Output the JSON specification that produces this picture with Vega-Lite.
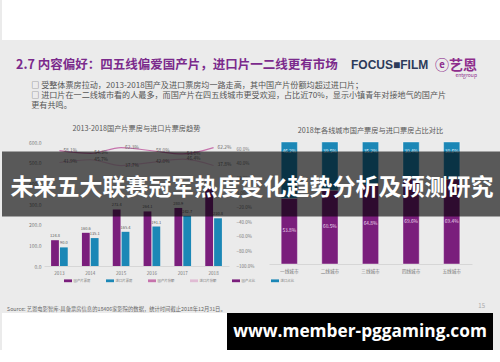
{
  "$schema": "https://vega.github.io/schema/vega-lite/v6.json",
  "background": "#ebebeb",
  "padding": 0,
  "config": {
    "view": {"stroke": null},
    "font": "Noto Sans CJK SC"
  },
  "spacing": 18,
  "vconcat": [
    {
      "width": 500,
      "height": 40,
      "data": {"values": [{}]},
      "mark": {"type": "rect", "color": "#ffffff"},
      "encoding": {
        "x": {"datum": 0, "type": "quantitative", "scale": {"domain": [0, 1], "nice": false}, "axis": null},
        "x2": {"datum": 1},
        "y": {"datum": 0, "type": "quantitative", "scale": {"domain": [0, 1], "nice": false}, "axis": null},
        "y2": {"datum": 1}
      }
    },
    {
      "spacing": 3,
      "vconcat": [
        {
          "spacing": 0,
          "hconcat": [
            {
              "width": 345, "height": 1,
              "data": {"values": [{}]},
              "mark": {"type": "point", "opacity": 0},
              "title": {"text": "2.7 内容偏好：四五线偏爱国产片，进口片一二线更有市场", "anchor": "start", "frame": "group", "dx": 14, "offset": 0, "fontSize": 12.5, "fontWeight": "bold", "color": "#7b2a8c"}
            },
            {
              "width": 85, "height": 1,
              "data": {"values": [{}]},
              "mark": {"type": "point", "opacity": 0},
              "title": {"text": "FOCUS■FILM", "anchor": "start", "frame": "group", "dx": 4, "offset": 0, "font": "Liberation Sans", "fontSize": 12, "fontWeight": "bold", "color": "#2d3b5a"}
            },
            {
              "width": 70, "height": 1,
              "data": {"values": [{}]},
              "mark": {"type": "point", "opacity": 0},
              "title": {"text": "ⓔ艺恩", "subtitle": "entgroup", "anchor": "end", "frame": "group", "dx": -25, "offset": -6, "fontSize": 14, "fontWeight": "bold", "color": "#8e2d8c", "subtitleFontSize": 5, "subtitleColor": "#8e2d8c", "subtitlePadding": 0}
            }
          ]
        },
        {
          "spacing": 28,
          "vconcat": [
            {
              "bounds": "flush",
              "spacing": 40,
              "title": {
                "text": ["□ 受整体票房拉动，2013-2018国产及进口票房均一路走高，其中国产片份额均超过进口片；", "□ 进口片在一二线城市看的人最多，而国产片在四五线城市更受欢迎，占比近70%，显示小镇青年对接地气的国产片", "　 更有共鸣。"],
                "anchor": "start", "frame": "bounds", "dx": 31, "offset": 15,
                "fontSize": 8.1, "fontWeight": "normal", "color": "#555555", "lineHeight": 10
              },
              "hconcat": [
                {
                  "width": 2, "height": 124,
                  "data": {"values": [{}]},
                  "mark": {"type": "point", "opacity": 0}
                },
                {
                  "width": 185, "height": 124,
                  "title": {"text": "2013-2018国产片票房与进口片票房趋势", "fontSize": 7.2, "fontWeight": "normal", "color": "#595959", "offset": 8, "anchor": "middle"},
                  "data": {"values": [
                    {"year": "2013", "series": "国产片票房", "value": 124.8},
                    {"year": "2014", "series": "国产片票房", "value": 160.6},
                    {"year": "2015", "series": "国产片票房", "value": 273.4},
                    {"year": "2016", "series": "国产片票房", "value": 264.1},
                    {"year": "2017", "series": "国产片票房", "value": 280.9},
                    {"year": "2018", "series": "国产片票房", "value": 379.8},
                    {"year": "2013", "series": "进口片票房", "value": 90.0},
                    {"year": "2014", "series": "进口片票房", "value": 135.1},
                    {"year": "2015", "series": "进口片票房", "value": 165.4},
                    {"year": "2016", "series": "进口片票房", "value": 191.1},
                    {"year": "2017", "series": "进口片票房", "value": 242.7},
                    {"year": "2018", "series": "进口片票房", "value": 230.8},
                    {"year": "2013", "series": "国产片份额", "value": 0.581},
                    {"year": "2014", "series": "国产片份额", "value": 0.543},
                    {"year": "2015", "series": "国产片份额", "value": 0.623},
                    {"year": "2016", "series": "国产片份额", "value": 0.580},
                    {"year": "2017", "series": "国产片份额", "value": 0.536},
                    {"year": "2018", "series": "国产片份额", "value": 0.622},
                    {"year": "2013", "series": "进口片份额", "value": 0.419},
                    {"year": "2014", "series": "进口片份额", "value": 0.457},
                    {"year": "2015", "series": "进口片份额", "value": 0.377},
                    {"year": "2016", "series": "进口片份额", "value": 0.420},
                    {"year": "2017", "series": "进口片份额", "value": 0.464},
                    {"year": "2018", "series": "进口片份额", "value": 0.378}
                  ]},
                  "encoding": {
                    "x": {"field": "year", "type": "ordinal", "title": null,
                      "scale": {"paddingInner": 0.46, "paddingOuter": 0.23},
                      "axis": {"labelAngle": 0, "ticks": false, "domainColor": "#d6d6d6", "labelFontSize": 4.6, "labelColor": "#7a7a7a", "labelPadding": 4}}
                  },
                  "layer": [
                    {
                      "transform": [{"filter": {"field": "series", "oneOf": ["国产片票房", "进口片票房"]}}],
                      "encoding": {
                        "y": {"field": "value", "type": "quantitative", "title": null,
                          "scale": {"domain": [0, 600], "nice": false},
                          "axis": {"values": [0, 100, 200, 300, 400, 500, 600], "format": ".1f", "grid": false, "domain": false, "ticks": false, "labelFontSize": 5, "labelColor": "#7a7a7a", "labelPadding": 3}},
                        "xOffset": {"field": "series", "type": "nominal", "scale": {"paddingInner": 0.12}}
                      },
                      "layer": [
                        {
                          "mark": {"type": "bar"},
                          "encoding": {
                            "color": {"field": "series", "type": "nominal",
                              "scale": {"domain": ["国产片票房", "进口片票房", "国产片份额", "进口片份额"], "range": ["#7a1e7c", "#1b87b6", "#c673ac", "#e0bcd4"]},
                              "legend": {"orient": "none", "legendX": 62, "legendY": 276.5, "direction": "horizontal", "title": null, "symbolType": "M-1,-0.35H1V0.35H-1Z", "symbolSize": 64, "symbolStrokeWidth": 0, "labelFontSize": 3.4, "labelColor": "#7a7a7a", "columnPadding": 15, "labelOffset": 1.5}}
                          }
                        },
                        {
                          "mark": {"type": "text", "dy": -2, "baseline": "bottom", "fontSize": 4, "color": "#595959"},
                          "encoding": {"text": {"field": "value", "type": "quantitative", "format": ".1f"}}
                        }
                      ]
                    },
                    {
                      "transform": [{"filter": {"field": "series", "oneOf": ["国产片份额", "进口片份额"]}}],
                      "encoding": {
                        "y": {"field": "value", "type": "quantitative", "title": null,
                          "scale": {"domain": [-1, 0.7], "nice": false},
                          "axis": {"orient": "right", "values": [-1, -0.8, -0.6, -0.4, -0.2, 0, 0.2, 0.4, 0.6], "format": ".1%", "grid": false, "domain": false, "ticks": false, "labelFontSize": 4.5, "labelColor": "#7a7a7a", "labelPadding": 7}}
                      },
                      "layer": [
                        {
                          "mark": {"type": "line", "strokeWidth": 1.2, "interpolate": "monotone"},
                          "encoding": {"color": {"field": "series", "type": "nominal"}}
                        },
                        {
                          "mark": {"type": "text", "align": "left", "dx": 4, "baseline": "middle", "fontSize": 4.8, "color": "#6a6a6a"},
                          "encoding": {"text": {"field": "value", "type": "quantitative", "format": ".1%"}}
                        }
                      ]
                    }
                  ],
                  "resolve": {"scale": {"y": "independent"}}
                },
                {
                  "width": 203, "height": 122,
                  "title": {"text": "2018年各线城市国产票房与进口票房占比对比", "fontSize": 7.2, "fontWeight": "normal", "color": "#595959", "offset": 8, "anchor": "middle"},
                  "data": {"values": [
                    {"city": "一线城市", "type": "国产占比", "value": 0.538},
                    {"city": "二线城市", "type": "国产占比", "value": 0.605},
                    {"city": "三线城市", "type": "国产占比", "value": 0.648},
                    {"city": "四线城市", "type": "国产占比", "value": 0.696},
                    {"city": "五线城市", "type": "国产占比", "value": 0.694},
                    {"city": "一线城市", "type": "进口占比", "value": 0.462},
                    {"city": "二线城市", "type": "进口占比", "value": 0.395},
                    {"city": "三线城市", "type": "进口占比", "value": 0.352},
                    {"city": "四线城市", "type": "进口占比", "value": 0.304},
                    {"city": "五线城市", "type": "进口占比", "value": 0.306}
                  ]},
                  "encoding": {
                    "x": {"field": "city", "type": "nominal", "title": null,
                      "sort": ["一线城市", "二线城市", "三线城市", "四线城市", "五线城市"],
                      "scale": {"paddingInner": 0.6, "paddingOuter": 0.3},
                      "axis": {"labelAngle": 0, "ticks": false, "domainColor": "#d6d6d6", "labelFontSize": 4.6, "labelColor": "#7a7a7a", "labelPadding": 4}}
                  },
                  "layer": [
                    {
                      "mark": {"type": "bar", "stroke": "#ffffff", "strokeWidth": 0.4},
                      "encoding": {
                        "y": {"field": "value", "type": "quantitative", "stack": "zero", "scale": {"domain": [0, 1], "nice": false}, "axis": null},
                        "order": {"field": "type", "type": "nominal", "sort": "ascending"},
                        "color": {"field": "type", "type": "nominal",
                          "scale": {"domain": ["国产占比", "进口占比"], "range": ["#78207b", "#1f87b5"]},
                          "legend": {"orient": "none", "legendX": 343, "legendY": 276, "direction": "horizontal", "title": null, "symbolType": "square", "symbolSize": 10, "symbolStrokeWidth": 0, "labelFontSize": 4.8, "labelColor": "#7a7a7a", "columnPadding": 3, "labelOffset": 1}}
                      }
                    },
                    {
                      "transform": [{"filter": {"field": "type", "equal": "国产占比"}}],
                      "mark": {"type": "text", "baseline": "middle", "fontSize": 4.8, "color": "#eedcef"},
                      "encoding": {
                        "y": {"field": "value", "type": "quantitative", "stack": "zero", "bandPosition": 0.5},
                        "text": {"field": "value", "type": "quantitative", "format": ".1%"}
                      }
                    },
                    {
                      "transform": [{"filter": {"field": "type", "equal": "进口占比"}}],
                      "mark": {"type": "text", "baseline": "middle", "dy": 10, "fontSize": 4.8, "color": "#e4f2f8"},
                      "encoding": {
                        "y": {"datum": 1, "type": "quantitative"},
                        "text": {"field": "value", "type": "quantitative", "format": ".1%"}
                      }
                    }
                  ]
                },
                {
                  "width": 500, "height": 122,
                  "data": {"values": [{"t": "未来五大联赛冠军热度变化趋势分析及预测研究"}]},
                  "layer": [
                    {
                      "mark": {"type": "rect", "color": "#000000", "opacity": 0.62},
                      "encoding": {
                        "x": {"datum": -1.02, "type": "quantitative", "scale": {"domain": [0, 1], "nice": false, "zero": false}, "axis": null},
                        "x2": {"datum": -0.02},
                        "y": {"datum": 0.389, "type": "quantitative", "scale": {"domain": [0, 1], "nice": false}, "axis": null},
                        "y2": {"datum": 0.922}
                      }
                    },
                    {
                      "mark": {"type": "text", "color": "#ffffff", "fontSize": 23, "fontWeight": "bold", "align": "center", "baseline": "middle"},
                      "encoding": {
                        "x": {"datum": -0.52, "type": "quantitative"},
                        "y": {"datum": 0.627, "type": "quantitative"},
                        "text": {"field": "t"}
                      }
                    }
                  ]
                }
              ]
            },
            {
              "bounds": "flush",
              "spacing": 0,
              "hconcat": [
                {
                  "width": 225, "height": 37,
                  "data": {"values": [{}]},
                  "mark": {"type": "rect", "color": "#ffffff"},
                  "encoding": {
                    "x": {"datum": 0, "type": "quantitative", "scale": {"domain": [0, 1], "nice": false}, "axis": null},
                    "x2": {"datum": 1},
                    "y": {"datum": 0, "type": "quantitative", "scale": {"domain": [0, 1], "nice": false}, "axis": null},
                    "y2": {"datum": 1}
                  },
                  "title": {"text": "Source: 艺恩电影智库-具备票房信息的18406家影院的数据，统计时间截止2018年12月31日。", "anchor": "start", "frame": "group", "dx": 5, "offset": 1, "fontSize": 5.3, "fontWeight": "normal", "color": "#666666"}
                },
                {
                  "width": 266, "height": 37,
                  "data": {"values": [{"t": "www.member-pggaming.com"}]},
                  "title": {"text": "15", "anchor": "end", "frame": "group", "dx": -8, "offset": 4, "fontSize": 6, "fontWeight": "normal", "color": "#aaaaaa"},
                  "layer": [
                    {
                      "mark": {"type": "rect", "color": "#000000"},
                      "encoding": {
                        "x": {"datum": 0, "type": "quantitative", "scale": {"domain": [0, 1], "nice": false}, "axis": null},
                        "x2": {"datum": 1},
                        "y": {"datum": 0, "type": "quantitative", "scale": {"domain": [0, 1], "nice": false}, "axis": null},
                        "y2": {"datum": 1}
                      }
                    },
                    {
                      "mark": {"type": "text", "color": "#ffffff", "font": "Open Sans", "fontSize": 17.3, "fontWeight": "bold", "baseline": "middle"},
                      "encoding": {"text": {"field": "t"}}
                    }
                  ]
                }
              ]
            }
          ]
        }
      ]
    }
  ]
}
